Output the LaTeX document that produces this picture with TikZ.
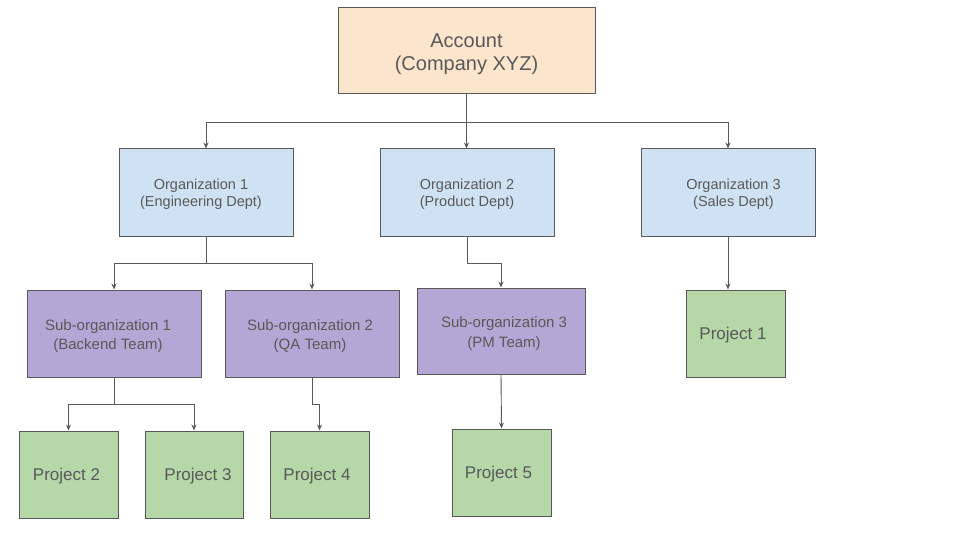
\documentclass[tikz,border=0pt]{standalone}
\usepackage{fontspec}
\setmainfont{Liberation Sans}
\usetikzlibrary{arrows.meta}
\definecolor{edgegray}{HTML}{595959}
\definecolor{acctfill}{HTML}{FCE5CD}
\definecolor{orgfill}{HTML}{CFE2F3}
\definecolor{subfill}{HTML}{B4A7D6}
\definecolor{projfill}{HTML}{B6D7A8}

\begin{document}
\begin{tikzpicture}[x=1pt,y=-1pt,
    box/.style={draw=edgegray,line width=1pt,inner sep=0pt},
    lbl/.style={text=edgegray,align=center,inner sep=0pt},
    acct/.style={box,fill=acctfill,minimum width=257pt,minimum height=86pt},
    org/.style={box,fill=orgfill,minimum width=174pt,minimum height=87pt},
    suborg/.style={box,fill=subfill,minimum width=174pt,minimum height=87pt},
    proj/.style={box,fill=projfill,minimum width=99pt,minimum height=87pt},
    acctlbl/.style={lbl,font=\fontsize{20}{23.5}\selectfont,yshift=-3pt},
    orglbl/.style={lbl,font=\fontsize{14.5}{17.5}\selectfont,yshift=-2pt},
    sublbl/.style={lbl,font=\fontsize{15}{19.5}\selectfont,yshift=-2.5pt},
    projlbl/.style={lbl,font=\fontsize{17}{20}\selectfont,yshift=-2pt},
    link/.style={draw=edgegray,line width=0.9pt,-{Stealth[length=6pt,width=5pt]}}]
    \useasboundingbox[fill=white] (0,0) rectangle (960,540);
    \node[acct,label={[acctlbl]center:Account\\(Company XYZ)}] (account) at (466.5,51) {};
    \node[org,label={[orglbl,xshift=-5pt]center:Organization 1\\(Engineering Dept)}] (org1) at (206,192.5) {};
    \node[org,label={[orglbl]center:Organization 2\\(Product Dept)}] (org2) at (467,192.5) {};
    \node[org,label={[orglbl,xshift=5.5pt]center:Organization 3\\(Sales Dept)}] (org3) at (728,192.5) {};
    \node[suborg,label={[sublbl,xshift=-6pt]center:Sub-organization 1\\(Backend Team)}] (sub1) at (114,333.5) {};
    \node[suborg,label={[sublbl,xshift=-2pt]center:Sub-organization 2\\(QA Team)}] (sub2) at (312,333.5) {};
    \node[suborg,minimum width=168pt,minimum height=86pt,label={[sublbl,xshift=3pt]center:Sub-organization 3\\(PM Team)}] (sub3) at (501,331) {};
    \node[proj,label={[projlbl,xshift=-2.5pt]center:Project 1}] (proj1) at (735.5,333.5) {};
    \node[proj,label={[projlbl,xshift=-2pt]center:Project 2}] (proj2) at (68.5,474.5) {};
    \node[proj,minimum width=98pt,label={[projlbl,xshift=4pt]center:Project 3}] (proj3) at (194,474.5) {};
    \node[proj,label={[projlbl,xshift=-2.5pt]center:Project 4}] (proj4) at (319.5,474.5) {};
    \node[proj,label={[projlbl,xshift=-3pt]center:Project 5}] (proj5) at (501.5,472.5) {};
    \path[link] (account.south) -- ++(0,28) -| (org1.north);
    \path[link] (account.south) -- (account.south |- org2.north);
    \path[link] (account.south) -- ++(0,28) -| (org3.north);
    \path[link] (org1.south) -- ++(0,27) -| (sub1.north);
    \path[link] (org1.south) -- ++(0,27) -| (sub2.north);
    \path[link] (org2.south) -- ++(0,27) -| (sub3.north);
    \path[link] (org3.south) -- (org3.south |- proj1.north);
    \path[link] (sub1.south) -- ++(0,27) -| (proj2.north);
    \path[link] (sub1.south) -- ++(0,27) -| (proj3.north);
    \path[link] (sub2.south) -- ++(0,27) -| (proj4.north);
    \path[link] (sub3.south) -- (proj5.north);
\end{tikzpicture}
\end{document}
